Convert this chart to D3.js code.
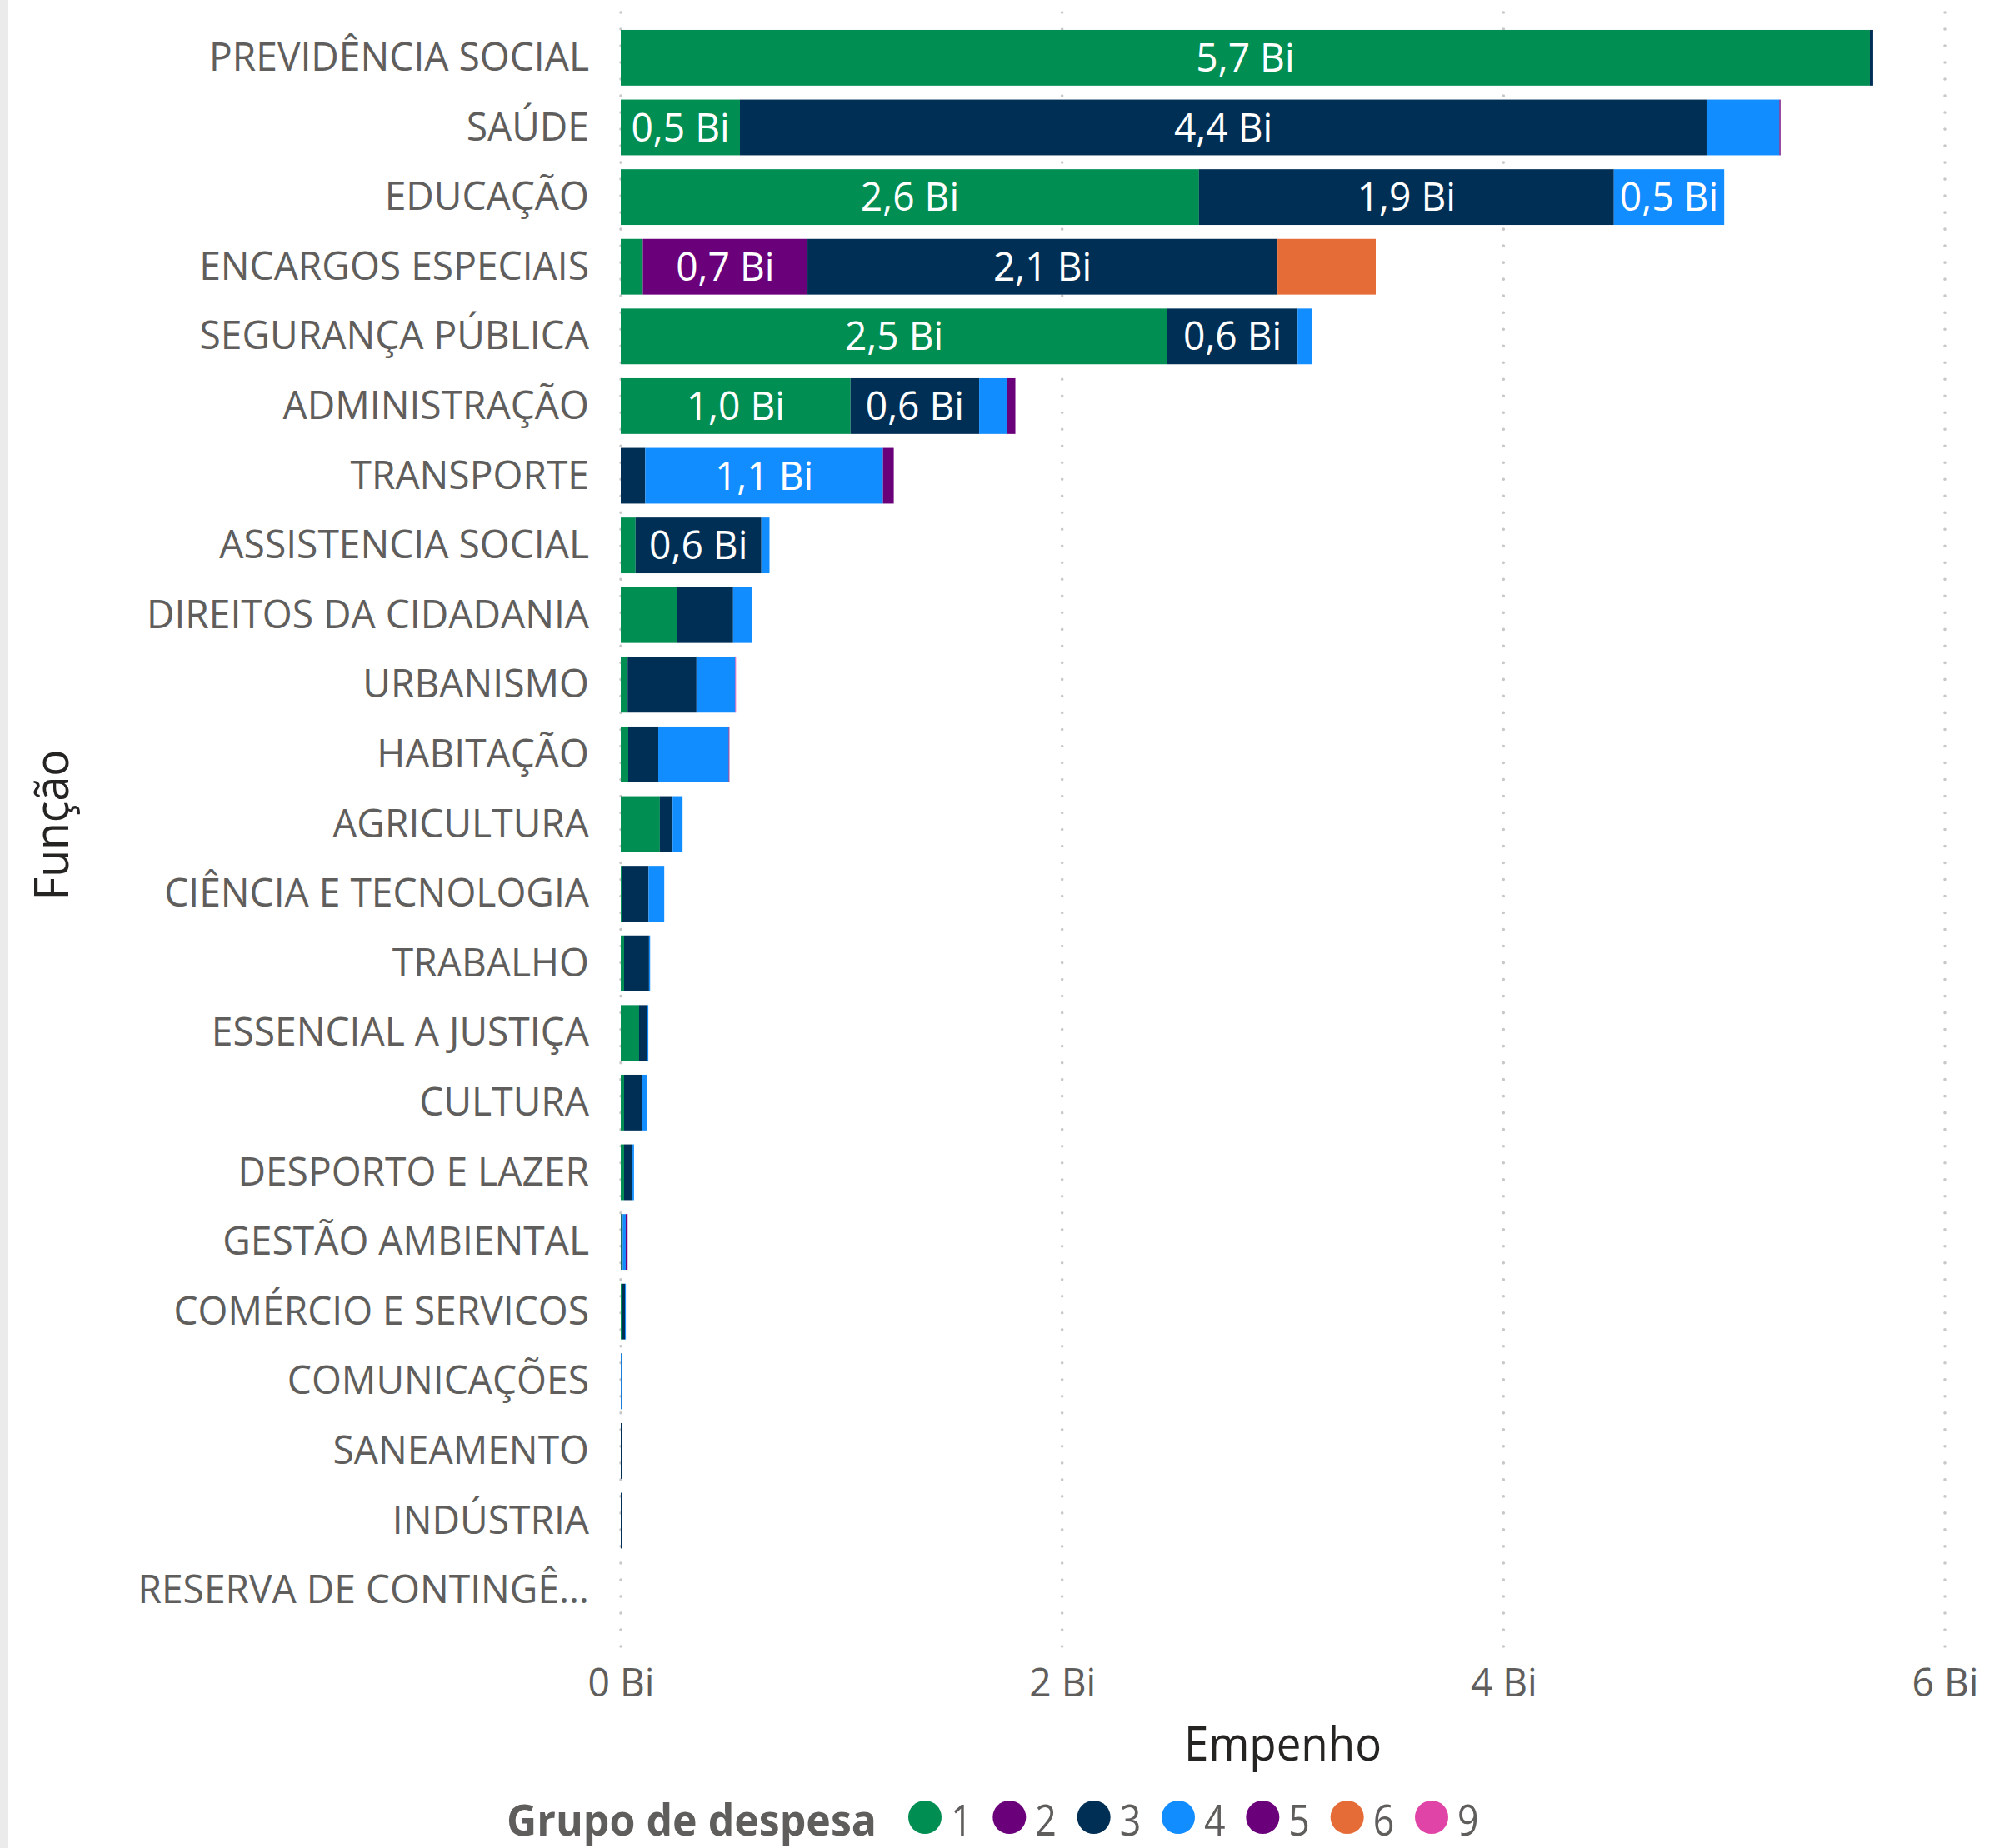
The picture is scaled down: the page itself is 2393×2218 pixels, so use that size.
<!DOCTYPE html>
<html><head><meta charset="utf-8">
<script src="https://cdn.jsdelivr.net/npm/d3@7"></script>
<style>
html,body{margin:0;padding:0;background:#fff;}
svg{display:block;}
text{font-family:"Open Sans","Noto Sans",sans-serif;}
</style></head><body>
<svg id="chart" width="2393" height="2218"></svg>
<script>
// ---------------- DATA (values in billions, "Bi") ----------------
const categories = [
  "PREVIDÊNCIA SOCIAL","SAÚDE","EDUCAÇÃO","ENCARGOS ESPECIAIS","SEGURANÇA PÚBLICA",
  "ADMINISTRAÇÃO","TRANSPORTE","ASSISTENCIA SOCIAL","DIREITOS DA CIDADANIA","URBANISMO",
  "HABITAÇÃO","AGRICULTURA","CIÊNCIA E TECNOLOGIA","TRABALHO","ESSENCIAL A JUSTIÇA",
  "CULTURA","DESPORTO E LAZER","GESTÃO AMBIENTAL","COMÉRCIO E SERVICOS","COMUNICAÇÕES",
  "SANEAMENTO","INDÚSTRIA","RESERVA DE CONTINGÊNCIA"
];
const groups = ["1","2","3","4","5","6","9"];
const grupo1 = [5.66,0.54,2.62,0.10,2.477,1.041,0,0.067,0.256,0.031,0.034,0.177,0.006,0.015,0.083,0.015,0.015,0.002,0.004,0,0,0,0];
const grupo2 = [0,0,0,0.746,0,0,0,0,0,0,0,0,0,0,0,0,0,0,0,0,0,0,0];
const grupo3 = [0.015,4.38,1.88,2.13,0.59,0.583,0.111,0.57,0.253,0.312,0.136,0.058,0.12,0.113,0.035,0.083,0.038,0.007,0.015,0.001,0.0075,0.0075,0];
const grupo4 = [0,0.33,0.50,0,0.065,0.127,1.077,0.037,0.087,0.176,0.319,0.045,0.071,0.005,0.007,0.019,0.007,0.0135,0.004,0.003,0,0,0];
const grupo5 = [0,0.005,0,0,0,0.037,0.049,0,0,0,0.002,0,0,0,0,0,0,0.0085,0,0,0,0,0];
const grupo6 = [0,0,0,0.445,0,0,0,0,0,0,0,0,0,0,0,0,0,0,0,0,0,0,0];
const grupo9 = [0,0,0,0,0,0,0,0,0,0.003,0,0,0,0,0,0,0,0,0,0,0,0,0];
const tickValues = [0,2,4,6];
const tickLabels = ["0 Bi","2 Bi","4 Bi","6 Bi"];
const groupColors = ["#008E52","#6B007B","#002F56","#118DFF","#6B007B","#E66C37","#E044A7"];
const xTitle = "Empenho", yTitle = "Função", legendTitle = "Grupo de despesa";

const seriesByGroup = {"1":grupo1,"2":grupo2,"3":grupo3,"4":grupo4,"5":grupo5,"6":grupo6,"9":grupo9};
const rows = categories.map((c,i)=>{
  const r = {cat:c};
  groups.forEach(g=>{ r[g] = seriesByGroup[g][i]; });
  return r;
});

// ---------------- CHART ----------------
const W = 2393, H = 2218;
const svg = d3.select("#chart");
const GRAY = "#605E5C", DARK = "#252423";
const FS = 48;

svg.append("rect").attr("x",0).attr("y",0).attr("width",10).attr("height",H).attr("fill","#ebebeb");

const x = d3.scaleLinear().domain([0,6]).range([745,2334]);
const y = d3.scaleBand().domain(categories).range([27.6,1950.4]).paddingInner(0.2).paddingOuter(0.1);
const color = d3.scaleOrdinal().domain(groups).range(groupColors);

// width compression factor (Segoe UI is narrower than Open Sans)
const probe = svg.append("text").attr("font-size",FS).text("PREVIDÊNCIA SOCIAL");
const K = 456 / probe.node().getComputedTextLength();
probe.remove();
function squeeze(sel, k){
  sel.each(function(){
    const w = this.getComputedTextLength();
    d3.select(this).attr("textLength", w*(k||K)).attr("lengthAdjust","spacingAndGlyphs");
  });
  return sel;
}
function fitWidth(sel, target){
  sel.each(function(){
    d3.select(this).attr("textLength", target).attr("lengthAdjust","spacingAndGlyphs");
  });
  return sel;
}

// gridlines
svg.append("g").selectAll("line").data(tickValues).join("line")
  .attr("x1",d=>x(d)).attr("x2",d=>x(d)).attr("y1",15).attr("y2",1977)
  .attr("stroke","#c8c8c8").attr("stroke-width",3.6)
  .attr("stroke-linecap","round").attr("stroke-dasharray","0.01 20");

// bars
const stack = d3.stack().keys(groups)(rows);
const layers = svg.append("g").selectAll("g").data(stack).join("g").attr("fill",d=>color(d.key));
layers.selectAll("rect").data(d=>d.filter(s=>s[1]-s[0]>0)).join("rect")
  .attr("x",d=>x(d[0])).attr("width",d=>Math.max(0.8, x(d[1])-x(d[0])))
  .attr("y",d=>y(d.data.cat)).attr("height",y.bandwidth());

// data labels
const fmt = v => v.toFixed(1).replace(".",",") + " Bi";
const lblG = svg.append("g");
stack.forEach(layer=>{
  layer.forEach(s=>{
    const v = s[1]-s[0];
    if (v <= 0) return;
    const segW = x(s[1]) - x(s[0]);
    const t = lblG.append("text")
      .attr("x",(x(s[0])+x(s[1]))/2).attr("y",y(s.data.cat)+y.bandwidth()/2+16.5)
      .attr("text-anchor","middle").attr("font-size",FS).attr("fill","#fff")
      .text(fmt(v));
    const tw = t.node().getComputedTextLength()*K;
    if (segW < tw + 12) { t.remove(); return; }
    squeeze(t);
  });
});

// category labels
const maxLabel = 560;
const catG = svg.append("g");
categories.forEach(c=>{
  const t = catG.append("text").attr("x",707).attr("y",y(c)+y.bandwidth()/2+15.5)
    .attr("text-anchor","end").attr("font-size",FS).attr("fill",GRAY).text(c);
  let s = c;
  while (t.node().getComputedTextLength()*K > maxLabel && s.length>1){
    s = s.slice(0,-1);
    t.text(s.trimEnd()+"…");
  }
  squeeze(t);
});

// x axis
const axis = d3.axisBottom(x).tickValues(tickValues).tickFormat((d,i)=>tickLabels[i]).tickSize(0);
const ax = svg.append("g").attr("transform","translate(0,2036)").call(axis);
ax.select(".domain").remove();
ax.selectAll("text").attr("y",0).attr("dy",null).attr("font-size",FS)
  .attr("fill",GRAY).attr("font-family",'"Open Sans","Noto Sans",sans-serif');
squeeze(ax.selectAll("text"));

// axis titles
fitWidth(svg.append("text").attr("x",(x.range()[0]+x.range()[1])/2).attr("y",2113)
  .attr("text-anchor","middle").attr("font-size",56).attr("fill",DARK).text(xTitle), 237);
fitWidth(svg.append("text").attr("transform","translate(82,990) rotate(-90)")
  .attr("text-anchor","middle").attr("font-size",56).attr("fill",DARK).text(yTitle), 181);

// legend
fitWidth(svg.append("text").attr("x",608).attr("y",2203).attr("font-size",52)
  .attr("font-weight","bold").attr("fill",GRAY).text(legendTitle), 444);
const lx = d3.scalePoint().domain(groups).range([1110,1718]);
const lg = svg.append("g").selectAll("g").data(groups).join("g");
lg.append("circle").attr("cx",d=>lx(d)).attr("cy",2181).attr("r",20).attr("fill",d=>color(d));
squeeze(lg.append("text").attr("x",d=>lx(d)+31).attr("y",2203).attr("font-size",52)
  .attr("fill",GRAY).text(d=>d), 0.86);
</script>
</body></html>
